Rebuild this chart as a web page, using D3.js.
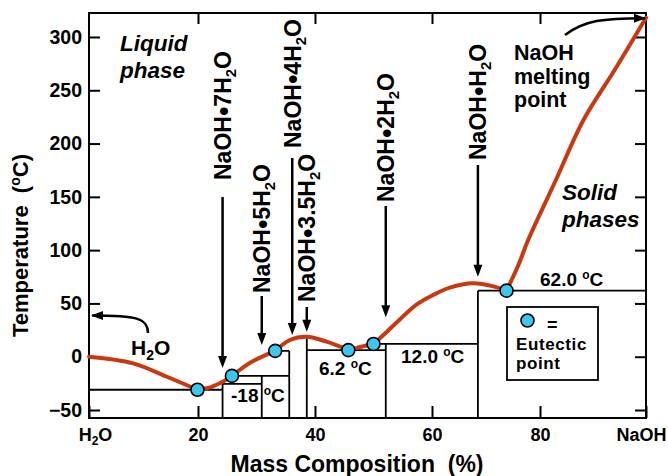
<!DOCTYPE html>
<html>
<head>
<meta charset="utf-8">
<script src="https://cdn.jsdelivr.net/npm/d3@7"></script>
<style>
body { margin: 0; background: #fff; }
svg { display: block; font-family: "Liberation Sans", Arial, sans-serif; font-weight: bold; }
</style>
</head>
<body>
<svg id="chart" width="668" height="476"></svg>
<script>
// NaOH - H2O phase diagram (mass % NaOH, temperature oC)
const xTickValues = [0, 20, 40, 60, 80, 100];
const xTickLabels = ["H2O", "20", "40", "60", "80", "NaOH"];
const yTickValues = [-50, 0, 50, 100, 150, 200, 250, 300];

// liquidus, one branch between each pair of eutectic points
const liquidus = [
  [[0, 0], [8.1, -6.2], [14.3, -18.8], [19.9, -31]],
  [[19.9, -31], [22.2, -28.5], [24.2, -23.5], [25.8, -18]],
  [[25.8, -18], [27.5, -10.9], [29.2, -4.7], [33.2, 5.5]],
  [[33.2, 5.5], [35.7, 15.7], [38.6, 18.8], [42.0, 14.1], [45.7, 6.2]],
  [[45.7, 6.2], [47.9, 9.4], [50.0, 12.0]],
  [[50.0, 12.0], [52.3, 23.5], [54.5, 35], [57.4, 49], [60.2, 57.9], [63.3, 64.8], [67.6, 68.9], [71.4, 66], [73.8, 62.0]],
  [[73.8, 62.0], [76.0, 86], [77.8, 109.5], [83.0, 165.8], [88.2, 222.1], [94.2, 270], [100, 318]]
];

const eutectics = [[19.9, -31], [25.8, -18], [33.2, 5.5], [45.7, 6.2], [50.0, 12.0], [73.8, 62.0]];

const hydrateNames = ["NaOH•7H2O", "NaOH•5H2O", "NaOH•4H2O", "NaOH•3.5H2O", "NaOH•2H2O", "NaOH•H2O"];
const hydrateComp = [24.2, 30.9, 35.6, 38.6, 52.1, 68.5];
const arrowTipTemp = [-10.5, 11, 20.4, 23.5, 37, 75];

// solid phase boundaries [x1, t1, x2, t2]; null temperature = down to the axis
const phaseLines = [
  [0, -31, 24.2, -31],
  [24.2, -25.5, 24.2, null],
  [24.2, -25.5, 30.9, -25.5],
  [25.8, -18, 35.6, -18],
  [30.9, -18, 30.9, null],
  [33.2, 5.5, 35.6, 5.5],
  [35.6, 5.5, 35.6, null],
  [38.6, 18.8, 38.6, null],
  [38.6, 6.2, 52.1, 6.2],
  [52.1, 12.0, 52.1, null],
  [50.0, 12.0, 68.5, 12.0],
  [68.5, 62.0, 68.5, null],
  [68.5, 62.0, 100, 62.0]
];

const tempLabels = ["-18 ", "6.2 ", "12.0 ", "62.0 "];

const W = 668, H = 476;
const margin = {top: 13, right: 22, bottom: 58, left: 89};
const innerW = W - margin.left - margin.right;
const innerH = H - margin.top - margin.bottom;

const svg = d3.select("#chart");

// the printed ticks are not evenly spaced, so the scale follows them
const tickFrac = [0, 0.1957, 0.4057, 0.6158, 0.8097, 1];
const x = d3.scaleLinear()
  .domain(xTickValues)
  .range(tickFrac.map(f => margin.left + f * innerW));
const y = d3.scaleLinear()
  .domain([-57.5, 322.5])
  .range([margin.top + innerH, margin.top]);
const yBottom = y.domain()[0];

const defs = svg.append("defs");
defs.append("marker")
  .attr("id", "head")
  .attr("markerUnits", "userSpaceOnUse")
  .attr("markerWidth", 12).attr("markerHeight", 10)
  .attr("refX", 11).attr("refY", 5)
  .attr("orient", "auto")
  .append("path").attr("d", "M0,0.5 L12,5 L0,9.5 Z").attr("fill", "#000");

// axes
function styleAxis(gg, size) {
  gg.select(".domain").remove();
  gg.selectAll("line").attr("stroke", "#000").attr("stroke-width", 2);
  gg.selectAll("text").attr("font-size", size).attr("font-family", null)
    .attr("font-weight", "bold").attr("fill", "#000");
}

svg.append("g")
  .attr("transform", `translate(${margin.left},0)`)
  .call(d3.axisLeft(y).tickValues(yTickValues).tickSizeInner(-11).tickSizeOuter(0).tickPadding(7))
  .call(gg => styleAxis(gg, "19.5px"));

svg.append("g")
  .attr("transform", `translate(${margin.left + innerW},0)`)
  .call(d3.axisRight(y).tickValues(yTickValues).tickSizeInner(-11).tickSizeOuter(0).tickFormat(""))
  .call(gg => styleAxis(gg, "1px"));

svg.append("g")
  .attr("transform", `translate(0,${margin.top})`)
  .call(d3.axisTop(x).tickValues(xTickValues.slice(1, -1)).tickSizeInner(-11).tickSizeOuter(0).tickFormat(""))
  .call(gg => styleAxis(gg, "1px"));

const xAxis = svg.append("g")
  .attr("transform", `translate(0,${margin.top + innerH})`)
  .call(d3.axisBottom(x).tickValues(xTickValues).tickSizeInner(-12).tickSizeOuter(0).tickPadding(10)
    .tickFormat((d, i) => xTickLabels[i]))
  .call(gg => styleAxis(gg, "18px"));

xAxis.selectAll("text").each(function(d, i) {
  const t = d3.select(this);
  if (i === 0) {
    t.text(null).attr("dx", 6);
    t.append("tspan").text("H");
    t.append("tspan").attr("font-size", "12px").attr("dy", 4).text("2");
    t.append("tspan").attr("dy", -4).text("O");
  }
  if (i === xTickLabels.length - 1) t.attr("dx", -5);
});

// frame
svg.append("rect")
  .attr("x", margin.left).attr("y", margin.top)
  .attr("width", innerW).attr("height", innerH)
  .attr("fill", "none").attr("stroke", "#000").attr("stroke-width", 2);

// axis titles
svg.append("text")
  .attr("x", 357).attr("y", 472)
  .attr("text-anchor", "middle").attr("font-size", "23px")
  .style("white-space", "pre")
  .text("Mass Composition  (%)");

const yTitle = svg.append("text")
  .attr("transform", "translate(28,337) rotate(-90)")
  .attr("font-size", "22px").style("white-space", "pre");
yTitle.append("tspan").text("Temperature  (");
yTitle.append("tspan").attr("font-size", "14px").attr("dy", -8).text("o");
yTitle.append("tspan").attr("dy", 8).text("C)");

// solid phase lines
svg.append("g").selectAll("line")
  .data(phaseLines)
  .join("line")
  .attr("x1", d => x(d[0])).attr("y1", d => y(d[1]))
  .attr("x2", d => x(d[2])).attr("y2", d => y(d[3] === null ? yBottom : d[3]))
  .attr("stroke", "#000").attr("stroke-width", 1.8);

// temperature labels of the invariant lines
const tempPos = [[231, 402], [319, 375], [401, 363], [540, 286]];
tempLabels.forEach((s, i) => {
  const t = svg.append("text")
    .attr("x", tempPos[i][0]).attr("y", tempPos[i][1])
    .attr("font-size", "19px").style("white-space", "pre");
  t.append("tspan").text(s);
  t.append("tspan").attr("font-size", "12px").attr("dy", -7).text("o");
  t.append("tspan").attr("dy", 7).text("C");
});

// hydrate labels and arrows
const labelLayout = [
  {bottom: 180, arrowTop: 197, dx: 0},
  {bottom: 293, arrowTop: 296, dx: 0},
  {bottom: 148, arrowTop: 158, dx: 3},
  {bottom: 302, arrowTop: 307, dx: 0},
  {bottom: 202, arrowTop: 206, dx: 0},
  {bottom: 160, arrowTop: 165, dx: 0}
];

hydrateNames.forEach((name, i) => {
  const lay = labelLayout[i];
  const ax = x(hydrateComp[i]) + lay.dx;
  const tipY = y(arrowTipTemp[i]);
  const parts = name.slice(0, -2).split("•");
  const t = svg.append("text")
    .attr("transform", `translate(${ax + 8.5},${lay.bottom}) rotate(-90)`)
    .attr("font-size", "23px");
  t.append("tspan").text(parts[0]);
  t.append("tspan").attr("font-size", "27px").attr("dy", 1.5).text("•");
  t.append("tspan").attr("dy", -1.5).text(parts[1]);
  t.append("tspan").attr("font-size", "15px").attr("dy", 5).text("2");
  t.append("tspan").attr("dy", -5).text("O");

  svg.append("line")
    .attr("x1", ax).attr("y1", lay.arrowTop)
    .attr("x2", ax).attr("y2", tipY - 8)
    .attr("stroke", "#000").attr("stroke-width", 2.5);
  svg.append("path")
    .attr("d", `M${ax - 4.5},${tipY - 12} L${ax + 4.5},${tipY - 12} L${ax},${tipY} Z`)
    .attr("fill", "#000");
});

// liquidus curve
const line = d3.line()
  .x(d => x(d[0])).y(d => y(d[1]))
  .curve(d3.curveCatmullRom.alpha(0.5));

svg.append("g").selectAll("path")
  .data(liquidus)
  .join("path")
  .attr("d", line)
  .attr("fill", "none")
  .attr("stroke", "#c9380e")
  .attr("stroke-width", 4)
  .attr("stroke-linecap", "round")
  .attr("stroke-linejoin", "round");

svg.append("g").selectAll("circle")
  .data(eutectics)
  .join("circle")
  .attr("cx", d => x(d[0])).attr("cy", d => y(d[1]))
  .attr("r", 6.5)
  .attr("fill", "#3cc6ee")
  .attr("stroke", "#000").attr("stroke-width", 1.6);

// text annotations, one text element per block
function block(lines, x0, y0, step, size, italic) {
  const t = svg.append("text")
    .attr("x", x0).attr("y", y0)
    .attr("font-size", size)
    .attr("font-style", italic ? "italic" : null);
  lines.forEach((s, i) => {
    t.append("tspan").attr("x", x0).attr("dy", i === 0 ? 0 : step).text(s);
  });
}
block(["Liquid", "phase"], 120, 51, 26.5, "22.5px", true);
block(["Solid", "phases"], 562, 200, 26.5, "22.5px", true);
block(["NaOH", "melting", "point"], 514, 60, 23.5, "21.5px", false);

const h2o = svg.append("text").attr("x", 131).attr("y", 355).attr("font-size", "21px");
h2o.append("tspan").text("H");
h2o.append("tspan").attr("font-size", "14px").attr("dy", 5).text("2");
h2o.append("tspan").attr("dy", -5).text("O");

svg.append("path")
  .attr("d", "M148,333 C148,318 136,315.5 92,315.5")
  .attr("fill", "none").attr("stroke", "#000").attr("stroke-width", 2.5)
  .attr("marker-end", "url(#head)");

svg.append("path")
  .attr("d", "M565,35 C585,20 603,18.5 645,18.3")
  .attr("fill", "none").attr("stroke", "#000").attr("stroke-width", 2.5)
  .attr("marker-end", "url(#head)");

// legend
svg.append("rect")
  .attr("x", 507).attr("y", 307).attr("width", 91).attr("height", 73)
  .attr("fill", "#fff").attr("stroke", "#000").attr("stroke-width", 1.8);
svg.append("circle")
  .attr("cx", 527.5).attr("cy", 320.5).attr("r", 6.5)
  .attr("fill", "#3cc6ee").attr("stroke", "#000").attr("stroke-width", 1.6);
svg.append("text").attr("x", 547).attr("y", 331).attr("font-size", "18px").text("=");
svg.append("text").attr("x", 516).attr("y", 349.5).attr("font-size", "17px")
  .attr("letter-spacing", "0.6px").text("Eutectic");
svg.append("text").attr("x", 516).attr("y", 368.7).attr("font-size", "17px")
  .attr("letter-spacing", "0.6px").text("point");
</script>
</body>
</html>
